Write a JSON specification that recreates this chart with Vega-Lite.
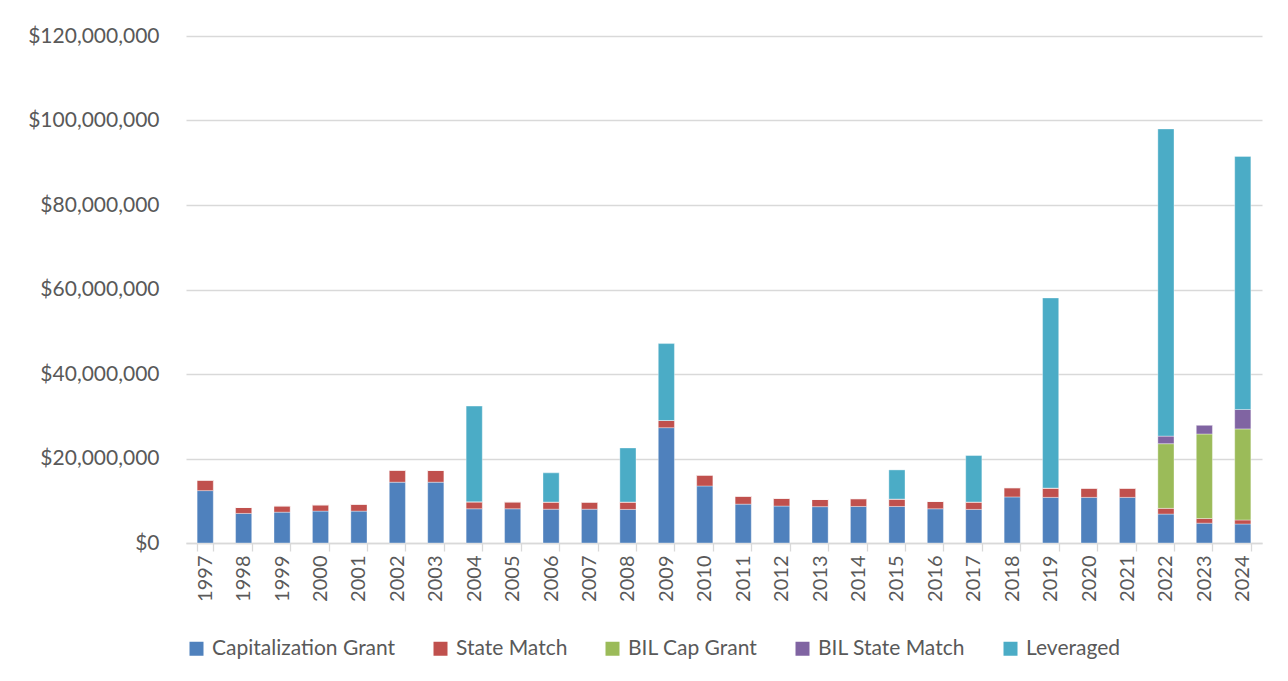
{
  "$schema": "https://vega.github.io/schema/vega-lite/v6.json",
  "width": 1076,
  "height": 507,
  "autosize": "none",
  "padding": {"left": 186, "top": 36, "right": 26, "bottom": 138},
  "background": "white",
  "data": {
    "values": [
      {"year": "1997", "Capitalization Grant": 12400000, "State Match": 2500000, "BIL Cap Grant": 0, "BIL State Match": 0, "Leveraged": 0},
      {"year": "1998", "Capitalization Grant": 7000000, "State Match": 1400000, "BIL Cap Grant": 0, "BIL State Match": 0, "Leveraged": 0},
      {"year": "1999", "Capitalization Grant": 7300000, "State Match": 1500000, "BIL Cap Grant": 0, "BIL State Match": 0, "Leveraged": 0},
      {"year": "2000", "Capitalization Grant": 7550000, "State Match": 1500000, "BIL Cap Grant": 0, "BIL State Match": 0, "Leveraged": 0},
      {"year": "2001", "Capitalization Grant": 7550000, "State Match": 1650000, "BIL Cap Grant": 0, "BIL State Match": 0, "Leveraged": 0},
      {"year": "2002", "Capitalization Grant": 14400000, "State Match": 2850000, "BIL Cap Grant": 0, "BIL State Match": 0, "Leveraged": 0},
      {"year": "2003", "Capitalization Grant": 14400000, "State Match": 2800000, "BIL Cap Grant": 0, "BIL State Match": 0, "Leveraged": 0},
      {"year": "2004", "Capitalization Grant": 8100000, "State Match": 1650000, "BIL Cap Grant": 0, "BIL State Match": 0, "Leveraged": 22650000},
      {"year": "2005", "Capitalization Grant": 8100000, "State Match": 1650000, "BIL Cap Grant": 0, "BIL State Match": 0, "Leveraged": 0},
      {"year": "2006", "Capitalization Grant": 8000000, "State Match": 1700000, "BIL Cap Grant": 0, "BIL State Match": 0, "Leveraged": 6900000},
      {"year": "2007", "Capitalization Grant": 8000000, "State Match": 1700000, "BIL Cap Grant": 0, "BIL State Match": 0, "Leveraged": 0},
      {"year": "2008", "Capitalization Grant": 7950000, "State Match": 1750000, "BIL Cap Grant": 0, "BIL State Match": 0, "Leveraged": 12800000},
      {"year": "2009", "Capitalization Grant": 27300000, "State Match": 1700000, "BIL Cap Grant": 0, "BIL State Match": 0, "Leveraged": 18200000},
      {"year": "2010", "Capitalization Grant": 13500000, "State Match": 2600000, "BIL Cap Grant": 0, "BIL State Match": 0, "Leveraged": 0},
      {"year": "2011", "Capitalization Grant": 9200000, "State Match": 1900000, "BIL Cap Grant": 0, "BIL State Match": 0, "Leveraged": 0},
      {"year": "2012", "Capitalization Grant": 8750000, "State Match": 1850000, "BIL Cap Grant": 0, "BIL State Match": 0, "Leveraged": 0},
      {"year": "2013", "Capitalization Grant": 8600000, "State Match": 1700000, "BIL Cap Grant": 0, "BIL State Match": 0, "Leveraged": 0},
      {"year": "2014", "Capitalization Grant": 8650000, "State Match": 1850000, "BIL Cap Grant": 0, "BIL State Match": 0, "Leveraged": 0},
      {"year": "2015", "Capitalization Grant": 8650000, "State Match": 1750000, "BIL Cap Grant": 0, "BIL State Match": 0, "Leveraged": 6900000},
      {"year": "2016", "Capitalization Grant": 8100000, "State Match": 1750000, "BIL Cap Grant": 0, "BIL State Match": 0, "Leveraged": 0},
      {"year": "2017", "Capitalization Grant": 7950000, "State Match": 1750000, "BIL Cap Grant": 0, "BIL State Match": 0, "Leveraged": 11000000},
      {"year": "2018", "Capitalization Grant": 10900000, "State Match": 2200000, "BIL Cap Grant": 0, "BIL State Match": 0, "Leveraged": 0},
      {"year": "2019", "Capitalization Grant": 10800000, "State Match": 2200000, "BIL Cap Grant": 0, "BIL State Match": 0, "Leveraged": 45000000},
      {"year": "2020", "Capitalization Grant": 10800000, "State Match": 2200000, "BIL Cap Grant": 0, "BIL State Match": 0, "Leveraged": 0},
      {"year": "2021", "Capitalization Grant": 10800000, "State Match": 2200000, "BIL Cap Grant": 0, "BIL State Match": 0, "Leveraged": 0},
      {"year": "2022", "Capitalization Grant": 6850000, "State Match": 1350000, "BIL Cap Grant": 15300000, "BIL State Match": 1800000, "Leveraged": 72700000},
      {"year": "2023", "Capitalization Grant": 4700000, "State Match": 1100000, "BIL Cap Grant": 20000000, "BIL State Match": 2100000, "Leveraged": 0},
      {"year": "2024", "Capitalization Grant": 4500000, "State Match": 950000, "BIL Cap Grant": 21550000, "BIL State Match": 4600000, "Leveraged": 59900000}
    ]
  },
  "transform": [
    {"fold": ["Capitalization Grant", "State Match", "BIL Cap Grant", "BIL State Match", "Leveraged"], "as": ["series", "value"]},
    {"calculate": "indexof(['Capitalization Grant','State Match','BIL Cap Grant','BIL State Match','Leveraged'], datum.series)", "as": "ord"}
  ],
  "mark": {"type": "bar", "stroke": "white", "strokeWidth": 0.6, "strokeOpacity": 0.6},
  "encoding": {
    "x": {
      "field": "year", "type": "nominal", "title": null,
      "scale": {"paddingInner": 0.58, "paddingOuter": 0.29},
      "axis": {
        "labelAngle": -90, "labelAlign": "right", "labelBaseline": "middle",
        "labelFont": "Lato", "labelFontSize": 20, "labelColor": "#595959",
        "labelPadding": 4, "tickBand": "extent", "tickSize": 8,
        "tickColor": "#d9d9d9", "domainColor": "#d9d9d9", "tickWidth": 1.3, "domainWidth": 1.3,
        "grid": false
      }
    },
    "y": {
      "field": "value", "type": "quantitative", "title": null, "stack": "zero",
      "scale": {"domain": [0, 120000000], "nice": false},
      "axis": {
        "values": [0, 20000000, 40000000, 60000000, 80000000, 100000000, 120000000],
        "format": "$,.0f", "labelFont": "Lato", "labelFontSize": 21, "labelColor": "#595959",
        "ticks": false, "tickSize": 0, "labelPadding": 27, "domain": false,
        "grid": true, "gridColor": "#d9d9d9", "gridWidth": 1.3
      }
    },
    "color": {
      "field": "series", "type": "nominal", "title": null,
      "scale": {
        "domain": ["Capitalization Grant", "State Match", "BIL Cap Grant", "BIL State Match", "Leveraged"],
        "range": ["#4F81BD", "#C0504D", "#9BBB59", "#8064A2", "#4BACC6"]
      },
      "legend": {
        "orient": "none", "direction": "horizontal", "legendX": 0, "legendY": 602,
        "symbolType": "square", "symbolSize": 196, "symbolStrokeWidth": 0,
        "labelFont": "Lato", "labelFontSize": 21, "labelColor": "#595959",
        "labelOffset": 5, "columnPadding": 34, "labelLimit": 400
      }
    },
    "order": {"field": "ord", "type": "quantitative"}
  },
  "config": {"view": {"stroke": null}}
}
